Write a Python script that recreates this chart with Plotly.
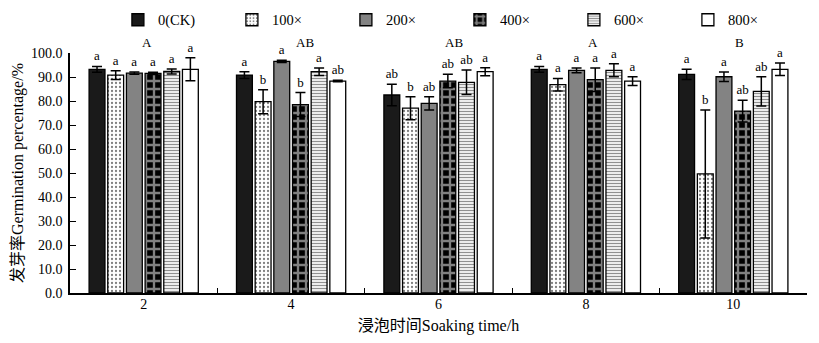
import plotly.graph_objects as go

categories = ["2", "4", "6", "8", "10"]
series_names = ["0(CK)", "100×", "200×", "400×", "600×", "800×"]

ck_vals = [93.2, 90.8, 82.5, 93.2, 91.1]
ck_err = [1.2, 1.4, 4.5, 1.2, 2.1]
ck_sig = ["a", "a", "ab", "a", "a"]

d100_vals = [90.8, 79.7, 77.0, 86.8, 49.6]
d100_err = [1.8, 5.0, 4.8, 2.6, 26.7]
d100_sig = ["a", "b", "b", "a", "b"]

d200_vals = [91.6, 96.5, 79.0, 92.8, 90.1]
d200_err = [0.5, 0.5, 2.8, 1.0, 2.0]
d200_sig = ["a", "a", "ab", "a", "a"]

d400_vals = [91.5, 78.5, 88.3, 88.9, 75.8]
d400_err = [0.5, 5.0, 2.8, 4.9, 4.5]
d400_sig = ["a", "b", "ab", "a", "ab"]

d600_vals = [92.3, 92.2, 87.8, 92.8, 84.0]
d600_err = [1.0, 1.6, 5.1, 2.7, 6.1]
d600_sig = ["a", "a", "ab", "a", "ab"]

d800_vals = [93.2, 88.3, 92.2, 88.3, 93.2]
d800_err = [4.8, 0.3, 1.7, 1.8, 2.6]
d800_sig = ["a", "ab", "a", "a", "a"]

group_sig = ["A", "AB", "AB", "A", "B"]
group_sig_level = 104.4

values = [ck_vals, d100_vals, d200_vals, d400_vals, d600_vals, d800_vals]
errors = [ck_err, d100_err, d200_err, d400_err, d600_err, d800_err]
sigs = [ck_sig, d100_sig, d200_sig, d400_sig, d600_sig, d800_sig]

FONT = "Liberation Serif, Times New Roman, Noto Sans CJK SC, serif"
Y_MAX = 100
group_label_shift = [3, 14, 15, 7, 6]

styles = [
    dict(color="#1a1a1a"),
    dict(color="white", pattern=dict(shape=".", fgcolor="black", bgcolor="white", size=4, solidity=0.25)),
    dict(color="#838383"),
    dict(color="black", pattern=dict(shape="+", fgcolor="white", bgcolor="black", size=8, solidity=0.5)),
    dict(color="white", pattern=dict(shape="-", fgcolor="#222222", bgcolor="white", size=3, solidity=0.45)),
    dict(color="white"),
]

fig = go.Figure()
for i, name in enumerate(series_names):
    fig.add_trace(go.Bar(
        x=categories, y=values[i], name=name, offsetgroup=str(i),
        marker=dict(**styles[i], line=dict(color="black", width=1.3)),
        error_y=dict(type="data", array=errors[i], color="black", thickness=1.5, width=5),
        hoverinfo="skip",
    ))
for i, name in enumerate(series_names):
    tops = [v + e for v, e in zip(values[i], errors[i])]
    fig.add_trace(go.Bar(
        x=categories, y=tops, offsetgroup=str(i), showlegend=False,
        marker=dict(color="rgba(0,0,0,0)", line=dict(width=0)),
        text=sigs[i], textposition="outside", constraintext="none",
        textfont=dict(family=FONT, size=13, color="black"),
        outsidetextfont=dict(family=FONT, size=13, color="black"),
        cliponaxis=False, hoverinfo="skip",
    ))

for idx, g in enumerate(group_sig):
    fig.add_annotation(x=idx, y=group_sig_level / Y_MAX, text=g, showarrow=False,
                       font=dict(family=FONT, size=13, color="black"),
                       xref="x", yref="paper", yanchor="middle",
                       xshift=group_label_shift[idx])

fig.update_layout(
    width=819, height=343,
    margin=dict(l=70, r=12, t=53, b=50, autoexpand=False),
    paper_bgcolor="white", plot_bgcolor="white",
    barmode="group", bargap=0.24, bargroupgap=0.15,
    font=dict(family=FONT, size=14, color="black"),
    legend=dict(orientation="h", x=0.065, xanchor="left", y=1.205, yanchor="top",
                entrywidth=69, entrywidthmode="pixels",
                font=dict(family=FONT, size=14.5, color="black"),
                bgcolor="rgba(0,0,0,0)", traceorder="normal"),
    showlegend=True,
)
fig.update_xaxes(
    type="category", range=[-0.5, 4.5], showline=True, linecolor="black", linewidth=1.5,
    ticks="inside", tickson="boundaries", ticklen=5, tickcolor="black",
    showgrid=False, tickfont=dict(family=FONT, size=14), ticklabelstandoff=-3,
    title=dict(text="浸泡时间Soaking time/h", font=dict(family=FONT, size=16), standoff=9),
)
fig.update_yaxes(
    range=[0, Y_MAX], dtick=10, tickformat=".1f", showline=True, linecolor="black",
    linewidth=1.5, ticks="inside", ticklen=6, tickcolor="black", showgrid=False,
    zeroline=False, tickfont=dict(family=FONT, size=14), ticklabelstandoff=3,
    title=dict(text="发芽率Germination percentage/%", font=dict(family=FONT, size=16), standoff=3),
)

fig.write_html("out.html")
